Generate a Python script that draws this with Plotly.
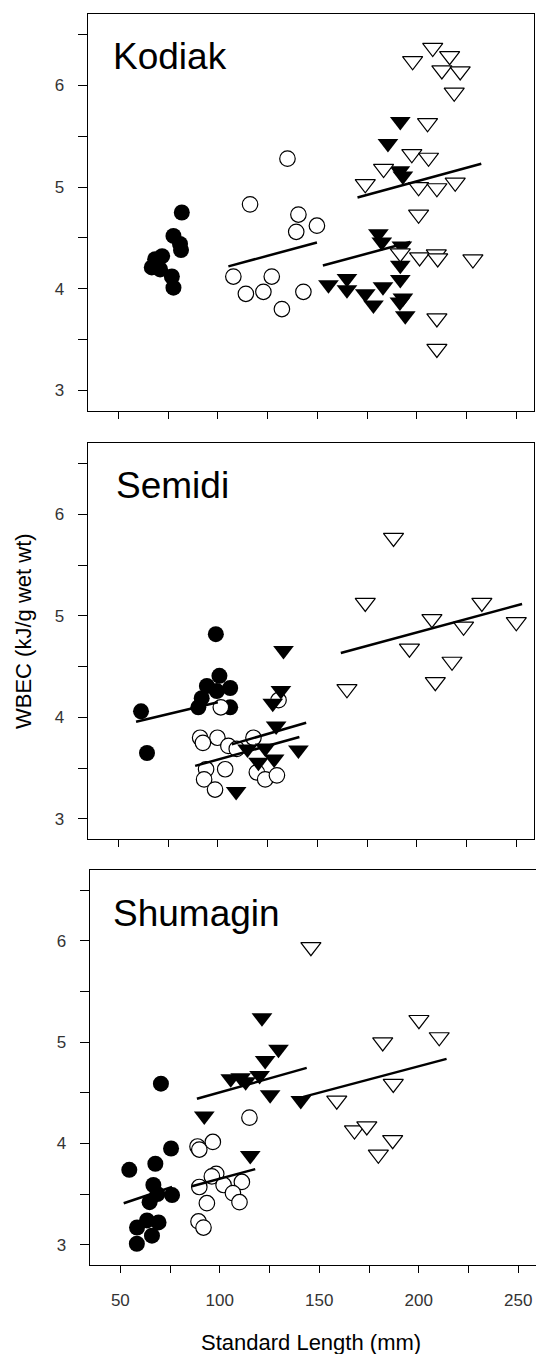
import plotly.graph_objects as go

W, H = 536, 1354

# ---------------- data (Standard Length mm, WBEC kJ/g wet wt) ----------------
panel_names = ["Kodiak", "Semidi", "Shumagin"]

# Kodiak
kod_fc_x = [81.9, 77.7, 81.0, 81.5, 72.0, 68.5, 66.8, 71.0, 76.9, 77.7]
kod_fc_y = [4.75, 4.52, 4.44, 4.38, 4.32, 4.29, 4.21, 4.19, 4.12, 4.01]
kod_oc_x = [135.0, 116.2, 140.5, 139.4, 149.8, 107.8, 114.1, 122.9, 127.1, 132.2, 143.0]
kod_oc_y = [5.28, 4.83, 4.73, 4.56, 4.62, 4.12, 3.95, 3.97, 4.12, 3.80, 3.97]
kod_ft_x = [191.7, 185.5, 191.5, 193.0, 180.7, 182.4, 192.5, 191.7, 191.7, 155.6, 164.9,
            164.9, 174.1, 178.2, 183.0, 193.0, 191.5, 194.2]
kod_ft_y = [5.645, 5.43, 5.16, 5.11, 4.54, 4.46, 4.42, 4.23, 4.09, 4.04, 4.10,
            3.99, 3.95, 3.84, 4.02, 3.91, 3.87, 3.735]
kod_ot_x = [208.0, 197.9, 216.5, 212.6, 221.8, 218.8, 205.4, 197.5, 205.9, 183.3, 174.1,
            200.9, 210.1, 219.3, 200.9, 191.7, 201.4, 209.8, 210.5, 228.2, 210.1, 210.1]
kod_ot_y = [6.37, 6.24, 6.29, 6.15, 6.14, 5.93, 5.63, 5.325, 5.29, 5.18, 5.03,
            5.00, 4.99, 5.045, 4.73, 4.35, 4.31, 4.34, 4.30, 4.29, 3.71, 3.41]
kod_lines = [([105.3, 149.8], [4.22, 4.455]),
             ([152.8, 196.7], [4.229, 4.459]),
             ([170.2, 232.4], [4.898, 5.229])]

# Semidi
sem_fc_x = [99.0, 61.4, 64.4, 100.8, 94.5, 106.2, 99.5, 91.9, 90.2, 106.2]
sem_fc_y = [4.82, 4.06, 3.65, 4.41, 4.31, 4.29, 4.26, 4.19, 4.10, 4.10]
sem_oc_x = [101.5, 130.5, 91.1, 99.8, 105.3, 109.5, 117.9, 94.1, 103.7, 93.1, 98.6,
            119.6, 123.8, 129.7, 92.5]
sem_oc_y = [4.10, 4.17, 3.80, 3.80, 3.72, 3.69, 3.80, 3.49, 3.49, 3.39, 3.29,
            3.46, 3.39, 3.43, 3.75]
sem_ft_x = [133.0, 131.7, 127.6, 129.3, 114.9, 123.8, 120.4, 128.3, 140.5, 109.2]
sem_ft_y = [4.66, 4.265, 4.14, 3.915, 3.69, 3.70, 3.56, 3.59, 3.68, 3.27]
sem_ot_x = [188.3, 174.1, 232.7, 207.6, 223.5, 250.0, 196.3, 217.7, 209.3, 164.9]
sem_ot_y = [5.77, 5.13, 5.13, 4.97, 4.895, 4.94, 4.68, 4.55, 4.35, 4.28]
sem_lines = [([58.9, 100.0], [3.958, 4.15]),
             ([88.6, 141.0], [3.523, 3.807]),
             ([107.0, 144.4], [3.735, 3.948]),
             ([161.8, 252.9], [4.634, 5.118])]

# Shumagin
shu_fc_x = [70.4, 75.5, 67.6, 54.5, 66.6, 76.0, 68.6, 64.7, 58.4, 63.4, 69.2, 65.9, 58.3]
shu_fc_y = [4.59, 3.95, 3.80, 3.74, 3.59, 3.49, 3.50, 3.42, 3.17, 3.24, 3.22, 3.09, 3.01]
shu_oc_x = [114.9, 88.8, 96.5, 89.7, 98.2, 96.0, 101.9, 111.1, 106.6, 109.9, 89.7, 93.5, 89.3, 91.8]
shu_oc_y = [4.255, 3.97, 4.015, 3.94, 3.70, 3.675, 3.59, 3.62, 3.51, 3.42, 3.57, 3.41, 3.23, 3.17]
shu_ft_x = [121.2, 129.5, 122.8, 120.0, 105.5, 110.5, 113.0, 125.3, 140.7, 92.2, 115.3]
shu_ft_y = [5.24, 4.93, 4.82, 4.67, 4.64, 4.65, 4.61, 4.48, 4.425, 4.27, 3.88]
shu_ot_x = [145.8, 200.1, 210.3, 181.9, 187.2, 158.8, 167.7, 173.9, 186.9, 179.7]
shu_ot_y = [5.94, 5.22, 5.05, 5.00, 4.59, 4.425, 4.13, 4.17, 4.035, 3.89]
shu_lines = [([51.7, 76.0], [3.41, 3.57]),
             ([86.0, 117.8], [3.577, 3.747]),
             ([88.5, 143.7], [4.441, 4.746]),
             ([142.0, 214.0], [4.46, 4.835])]

x_tickvals = [50, 75, 100, 125, 150, 175, 200, 225, 250]
x_ticktext = ["50", "", "100", "", "150", "", "200", "", "250"]
y_tickvals = [3, 3.5, 4, 4.5, 5, 5.5, 6, 6.5]
y_ticktext = ["3", "", "4", "", "5", "", "6", ""]
x_title = "Standard Length (mm)"
y_title = "WBEC (kJ/g wet wt)"

# ---------------- layout geometry (pixels) ----------------
FONT = "Liberation Sans, Arial, Helvetica, sans-serif"
geom = [  # left, right, top, bottom
    (87.7, 534.0, 14.3, 410.7),
    (87.7, 534.0, 443.3, 839.3),
    (89.7, 535.9, 870.0, 1265.0),
]
label_pos = [(110.5, 56.2), (114.0, 485.0), (111.0, 913.5)]

panels = [
    (kod_fc_x, kod_fc_y, kod_oc_x, kod_oc_y, kod_ft_x, kod_ft_y, kod_ot_x, kod_ot_y, kod_lines),
    (sem_fc_x, sem_fc_y, sem_oc_x, sem_oc_y, sem_ft_x, sem_ft_y, sem_ot_x, sem_ot_y, sem_lines),
    (shu_fc_x, shu_fc_y, shu_oc_x, shu_oc_y, shu_ft_x, shu_ft_y, shu_ot_x, shu_ot_y, shu_lines),
]

fig = go.Figure()
layout = dict(
    width=W, height=H,
    margin=dict(l=0, r=0, t=0, b=0),
    paper_bgcolor="white", plot_bgcolor="white",
    showlegend=False,
    font=dict(family=FONT, color="black"),
)

annotations = []
for i, (fcx, fcy, ocx, ocy, ftx, fty, otx, oty, lines) in enumerate(panels):
    n = "" if i == 0 else str(i + 1)
    xa, ya = "x" + n, "y" + n
    common = dict(xaxis=xa, yaxis=ya, mode="markers", hoverinfo="skip")
    fig.add_trace(go.Scatter(x=fcx, y=fcy, marker=dict(symbol="circle", size=16, color="black",
                                                       line=dict(width=0)), **common))
    fig.add_trace(go.Scatter(x=ocx, y=ocy, marker=dict(symbol="circle", size=15.5, color="white",
                                                       line=dict(width=1.2, color="black")), **common))
    fig.add_trace(go.Scatter(x=ftx, y=fty, marker=dict(symbol="triangle-down", size=18, color="black",
                                                       line=dict(width=0)), **common))
    fig.add_trace(go.Scatter(x=otx, y=oty, marker=dict(symbol="triangle-down", size=17.5, color="white",
                                                       line=dict(width=1.2, color="black")), **common))
    for lx, ly in lines:
        fig.add_trace(go.Scatter(x=lx, y=ly, xaxis=xa, yaxis=ya, mode="lines",
                                 line=dict(color="black", width=2.5), hoverinfo="skip"))

    l, r, t, b = geom[i]
    layout["xaxis" + n] = dict(
        domain=[l / W, r / W], anchor=ya, range=[34.6, 258.9],
        showline=True, linecolor="black", linewidth=1.2, mirror=True,
        ticks="outside", ticklen=7, tickwidth=1.2, tickcolor="black",
        tickvals=x_tickvals,
        ticktext=x_ticktext if i == 2 else [""] * len(x_tickvals),
        tickfont=dict(size=17, family=FONT, color="#333"),
        ticklabelstandoff=12,
        showgrid=False, zeroline=False, automargin=False,
    )
    layout["yaxis" + n] = dict(
        domain=[1 - b / H, 1 - t / H], anchor=xa, range=[2.8, 6.7],
        showline=True, linecolor="black", linewidth=1.2, mirror=True,
        ticks="outside", ticklen=9, tickwidth=1.2, tickcolor="black",
        tickvals=y_tickvals, ticktext=y_ticktext,
        tickfont=dict(size=17, family=FONT, color="#333"),
        ticklabelstandoff=10,
        showgrid=False, zeroline=False, automargin=False,
    )
    lx_, ly_ = label_pos[i]
    annotations.append(dict(text=panel_names[i], xref="paper", yref="paper",
                            x=lx_ / W, y=1 - ly_ / H, xanchor="left", yanchor="middle",
                            showarrow=False, font=dict(size=37, family=FONT, color="black")))

annotations.append(dict(text=x_title, xref="paper", yref="paper", x=311 / W, y=1 - 1342 / H,
                        xanchor="center", yanchor="middle", showarrow=False,
                        font=dict(size=22, family=FONT, color="black")))
annotations.append(dict(text=y_title, xref="paper", yref="paper", x=23 / W, y=1 - 631 / H,
                        xanchor="center", yanchor="middle", textangle=-90, showarrow=False,
                        font=dict(size=22, family=FONT, color="black")))
layout["annotations"] = annotations
fig.update_layout(**layout)
fig.write_html("out.html")
